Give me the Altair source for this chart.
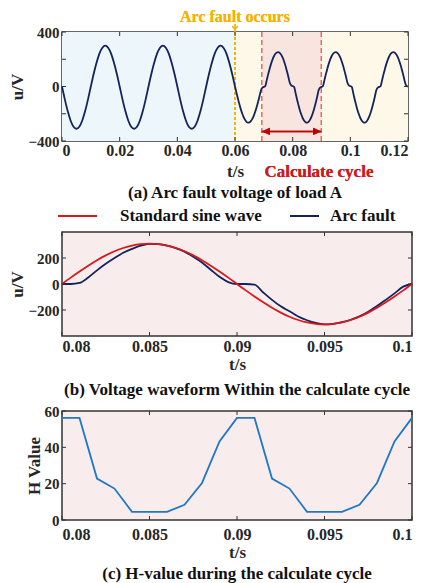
import altair as alt
import pandas as pd

FONT = "Liberation Serif"
NAVY = "#13235b"
RED = "#d7191c"
BLUE = "#1f77c6"
FRAME = "#333333"
PINK = "#f9ecec"

# ---------------- Panel (a) data ----------------
# pre-fault, sampled every 1 ms from 0 to 0.059 s
t_pre = [round(0.001 * i, 4) for i in range(60)]
u_pre = [0, -96, -182, -251, -295, -310, -295, -251, -182, -96,
         0, 93, 176, 243, 285, 300, 285, 243, 176, 93,
         0, -96, -182, -251, -295, -310, -295, -251, -182, -96,
         0, 93, 176, 243, 285, 300, 285, 243, 176, 93,
         0, -96, -182, -251, -295, -310, -295, -251, -182, -96,
         0, 93, 176, 243, 285, 300, 285, 243, 176, 93]
# after the fault, sampled every 0.5 ms from 0.060 to 0.120 s
t_post = [round(0.06 + 0.0005 * k, 4) for k in range(121)]
u_post = [0,
          -45, -88, -129, -166, -198, -225, -245, -259, -265, -263, -254, -238, -215, -186, -151, -113, -71, -27,
          -8, -3, 3,
          45, 89, 129, 166, 197, 222, 240, 250, 253, 247, 234, 213, 185, 152, 113, 72, 27,
          8, 3, -3,
          -47, -93, -135, -174, -206, -233, -251, -262, -265, -259, -245, -223, -194, -159, -119, -75, -28,
          -8, -3, 3,
          45, 89, 129, 166, 197, 222, 240, 250, 253, 247, 234, 213, 185, 152, 113, 72, 27,
          8, 3, -3,
          -47, -93, -135, -174, -206, -233, -251, -262, -265, -259, -245, -223, -194, -159, -119, -75, -28,
          -8, -3, 3,
          45, 89, 129, 166, 197, 222, 240, 250, 253, 247, 234, 213, 185, 152, 113, 72, 27,
          3, 0]

bg_start = [0.0, 0.06, 0.0693]
bg_end = [0.06, 0.12, 0.0899]
bg_color = ["#edf6fa", "#fef8e9", "#f8e5df"]
cycle_lines = [0.0693, 0.0899]
fault_time = 0.06
arrow_u = -330
xa_ticks = [0, 0.02, 0.04, 0.06, 0.08, 0.1, 0.12]
ya_ticks = [-400, -200, 0, 200, 400]

# ---------------- Panel (b) data ----------------
t_b = [round(0.08 + 0.0005 * k, 4) for k in range(41)]
u_sine = [0, 49, 96, 141, 183, 220, 252, 277, 296, 307, 311, 307, 296, 277, 252, 220, 183, 141, 96, 49,
          0, -49, -96, -141, -183, -220, -252, -277, -296, -307, -311, -307, -296, -277, -252, -220, -183, -141, -96, -49, 0]
u_arc = [0, 0, 8, 50, 105, 155, 200, 240, 270, 295, 308, 306, 295, 276, 249, 210, 165, 110, 55, 15,
         0, 0, -5, -65, -122, -172, -210, -250, -279, -300, -310, -306, -294, -275, -248, -213, -170, -122, -72, -20, 0]
series = ["Standard sine wave", "Arc fault"]
xb_ticks = [0.08, 0.085, 0.09, 0.095, 0.1]
yb_ticks = [-200, 0, 200]

# ---------------- Panel (c) data ----------------
t_c = [round(0.08 + 0.001 * k, 3) for k in range(21)]
h_c = [56.2, 56.2, 22.8, 17.3, 4.5, 4.5, 4.5, 8.4, 20.4, 43.2,
       56.2, 56.2, 22.8, 17.3, 4.5, 4.5, 4.5, 8.4, 20.4, 43.2, 56.2]
yc_ticks = [0, 20, 40, 60]

WA, HA = 346, 109
WB, HB = 350, 104
WC, HC = 350, 109


def make_x(field, domain, ticks, title_pad, label_pad):
    return alt.X(field, type="quantitative",
                 scale=alt.Scale(domain=domain, nice=False, zero=False),
                 axis=alt.Axis(values=ticks, format="~g", title="t/s", titlePadding=title_pad,
                               labelPadding=label_pad))


def make_y(field, domain, ticks, title):
    return alt.Y(field, type="quantitative",
                 scale=alt.Scale(domain=domain, nice=False, zero=False),
                 axis=alt.Axis(values=ticks, title=title))


def tick_layers(xfn, yfn, xt, yt, W, H):
    dx = pd.DataFrame({"v": xt})
    dy = pd.DataFrame({"v": yt})
    bx = alt.Chart(dx).mark_rule(color=FRAME, strokeWidth=1)
    by = alt.Chart(dy).mark_rule(color=FRAME, strokeWidth=1)
    return [
        bx.encode(x=xfn("v"), y=alt.value(0), y2=alt.value(4)),
        bx.encode(x=xfn("v"), y=alt.value(H), y2=alt.value(H - 4)),
        by.encode(y=yfn("v"), x=alt.value(0), x2=alt.value(4)),
        by.encode(y=yfn("v"), x=alt.value(W), x2=alt.value(W - 4)),
    ]


def cap(text, off):
    return alt.TitleParams(text, orient="bottom", anchor="middle", font=FONT, fontSize=17,
                           fontWeight="bold", color="#111111", offset=off)


# ---------------- Panel (a) ----------------
XA = lambda f: make_x(f, [0, 0.12], xa_ticks, 5, 1)
YA = lambda f: make_y(f, [-400, 400], ya_ticks, "u/V")

df_a = pd.DataFrame({"t": t_pre + t_post, "u": u_pre + u_post})
df_bg = pd.DataFrame({"x0": bg_start, "x1": bg_end, "c": bg_color})
df_cyc = pd.DataFrame({"x": cycle_lines})

bg = alt.Chart(df_bg).mark_rect().encode(
    x=XA("x0"), x2="x1", y=alt.value(0), y2=alt.value(HA), color=alt.Color("c:N", scale=None))
cyc = alt.Chart(df_cyc).mark_rule(color="#e34a4a", strokeDash=[5, 3], strokeWidth=1.2).encode(
    x=XA("x"), y=alt.value(0), y2=alt.value(HA))
fault = alt.Chart(df_cyc).mark_rule(color="#f5b300", strokeDash=[3, 2], strokeWidth=1.6).encode(
    x=alt.datum(fault_time), y=alt.value(0), y2=alt.value(HA))
line_a = alt.Chart(df_a).mark_line(color=NAVY, strokeWidth=1.8, interpolate="monotone").encode(
    x=XA("t"), y=YA("u"))
arrow = alt.Chart(df_cyc).mark_rule(color="#c00000", strokeWidth=1.5).encode(
    x=alt.datum(cycle_lines[0]), x2=alt.datum(cycle_lines[1]), y=alt.datum(arrow_u))
head_l = alt.Chart(df_cyc).mark_point(shape="M0,0L2,-0.9L2,0.9Z", filled=True, size=64, color="#c00000", opacity=1).encode(
    x=alt.datum(cycle_lines[0]), y=alt.datum(arrow_u))
head_r = alt.Chart(df_cyc).mark_point(shape="M0,0L-2,-0.9L-2,0.9Z", filled=True, size=64, color="#c00000", opacity=1).encode(
    x=alt.datum(cycle_lines[1]), y=alt.datum(arrow_u))
fault_txt = alt.Chart(df_cyc).mark_text(text="Arc fault occurs", font=FONT, fontSize=16, fontWeight="bold",
                                        color="#f5b300", baseline="alphabetic", align="center").encode(
    x=alt.datum(fault_time), y=alt.value(-10))
fault_stem = alt.Chart(df_cyc).mark_rule(color="#f5b300", strokeWidth=1.2).encode(
    x=alt.datum(fault_time), y=alt.value(-8), y2=alt.value(0))
fault_head = alt.Chart(df_cyc).mark_point(shape="M-1,-1L0,0L1,-1", filled=False, size=30, color="#f5b300",
                                          strokeWidth=1.2, opacity=1).encode(
    x=alt.datum(fault_time), y=alt.value(-3))
calc_txt = alt.Chart(df_cyc).mark_text(text="Calculate cycle", font=FONT, fontSize=17, fontWeight="bold",
                                       color="#d0191f", baseline="alphabetic", align="center").encode(
    x=alt.datum(0.0891), y=alt.value(HA + 36))

chart_a = alt.layer(bg, cyc, fault, line_a, arrow, head_l, head_r, fault_txt, fault_stem, fault_head, calc_txt,
                    *tick_layers(XA, YA, xa_ticks, ya_ticks, WA, HA)).properties(
    width=WA, height=HA, title=cap("(a) Arc fault voltage of load A", 5))

# ---------------- Panel (b) ----------------
XB = lambda f: make_x(f, [0.08, 0.1], xb_ticks, 2, 2)
YB = lambda f: make_y(f, [-400, 400], yb_ticks, "u/V")

df_sine = pd.DataFrame({"t": t_b, "u": u_sine})
df_arc = pd.DataFrame({"t": t_b, "u": u_arc})
arc_line = alt.Chart(df_arc).mark_line(color=NAVY, strokeWidth=1.8, interpolate="monotone").encode(
    x=XB("t"), y=YB("u"))
sine_line = alt.Chart(df_sine).mark_line(color=RED, strokeWidth=1.8, interpolate="monotone").encode(
    x=XB("t"), y=YB("u"))

# legend drawn as line samples + labels above the plot
leg_y = -16
leg_base = alt.Chart(df_cyc.head(1))
leg = [
    leg_base.mark_rule(color=RED, strokeWidth=2).encode(x=alt.value(-4), x2=alt.value(35), y=alt.value(leg_y)),
    leg_base.mark_text(text=series[0], font=FONT, fontSize=17, fontWeight="bold", color="#111111",
                       align="left", baseline="middle").encode(x=alt.value(58), y=alt.value(leg_y)),
    leg_base.mark_rule(color=NAVY, strokeWidth=2).encode(x=alt.value(228), x2=alt.value(257), y=alt.value(leg_y)),
    leg_base.mark_text(text=series[1], font=FONT, fontSize=17, fontWeight="bold", color="#111111",
                       align="left", baseline="middle").encode(x=alt.value(268), y=alt.value(leg_y)),
]

chart_b = alt.layer(arc_line, sine_line, *leg, *tick_layers(XB, YB, xb_ticks, yb_ticks, WB, HB)).properties(
    width=WB, height=HB, title=cap("(b) Voltage waveform Within the calculate cycle", 10),
    view=alt.ViewBackground(fill=PINK, stroke=FRAME, strokeWidth=1.5))

# ---------------- Panel (c) ----------------
XC = lambda f: make_x(f, [0.08, 0.1], xb_ticks, 2, 6)
YC = lambda f: make_y(f, [0, 60], yc_ticks, "H Value")
df_c = pd.DataFrame({"t": t_c, "h": h_c})
h_line = alt.Chart(df_c).mark_line(color=BLUE, strokeWidth=1.8).encode(x=XC("t"), y=YC("h"))
chart_c = alt.layer(h_line, *tick_layers(XC, YC, xb_ticks, yc_ticks, WC, HC)).properties(
    width=WC, height=HC, title=cap("(c) H-value during the calculate cycle", 6),
    view=alt.ViewBackground(fill=PINK, stroke=FRAME, strokeWidth=1.5))

chart = alt.vconcat(chart_a, chart_b, chart_c, spacing=4).properties(
    padding={"left": 0, "top": 0, "right": 0, "bottom": 0}
).configure_view(
    stroke=FRAME, strokeWidth=1.5
).configure_axis(
    labelFont=FONT, labelFontSize=16, labelFontWeight="bold", labelColor="#262626",
    titleFont=FONT, titleFontSize=17, titleFontWeight="bold", titleColor="#262626",
    ticks=False, domain=False, grid=False
).configure_axisY(titlePadding=1, labelPadding=3, labelFontSize=15)

chart.save("out.html", embed_options={"renderer": "svg", "actions": False})
